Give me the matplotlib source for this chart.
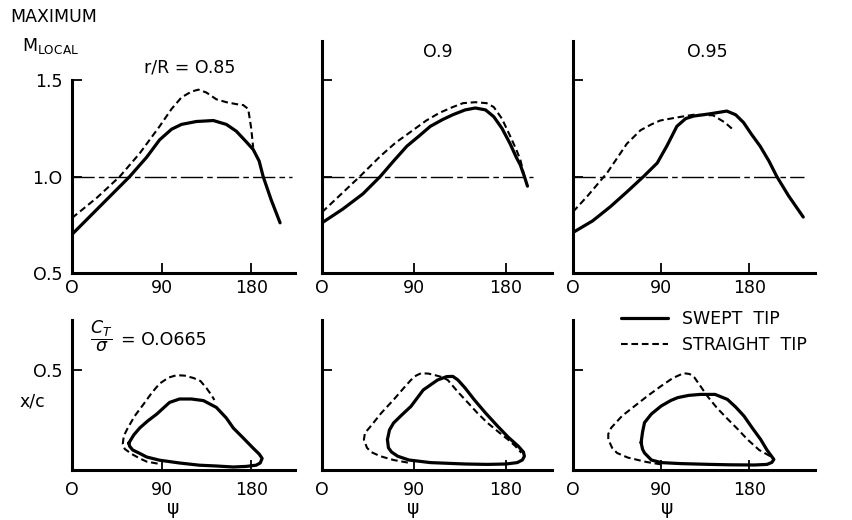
import matplotlib
matplotlib.use("Agg")
import matplotlib.pyplot as plt
from matplotlib.lines import Line2D

W, H = 853, 520
FS = 12.5

# ---- top row: maximum local Mach number vs azimuth psi ----
swept85_psi = [0, 28, 58, 75, 88, 100, 110, 125, 142, 155, 165, 175, 182, 188, 192, 200, 209]
swept85_m = [0.70, 0.845, 1.0, 1.10, 1.19, 1.245, 1.27, 1.285, 1.29, 1.27, 1.235, 1.18, 1.14, 1.08, 1.0, 0.88, 0.76]
straight85_psi = [0, 25, 48, 68, 88, 100, 110, 120, 127, 135, 145, 155, 165, 172, 177, 180, 182]
straight85_m = [0.785, 0.89, 1.0, 1.12, 1.26, 1.35, 1.41, 1.44, 1.45, 1.435, 1.40, 1.385, 1.375, 1.37, 1.35, 1.25, 1.15]

swept90_psi = [0, 20, 40, 57, 70, 83, 95, 106, 118, 128, 140, 150, 160, 168, 176, 184, 190, 194, 198, 201]
swept90_m = [0.76, 0.83, 0.91, 1.0, 1.08, 1.157, 1.21, 1.26, 1.295, 1.32, 1.345, 1.355, 1.345, 1.31, 1.25, 1.17, 1.10, 1.06, 1.0, 0.95]
straight90_psi = [0, 18, 37, 57, 72, 89, 102, 115, 128, 138, 150, 161, 168, 176, 184, 190, 194, 198]
straight90_m = [0.815, 0.905, 1.0, 1.105, 1.175, 1.24, 1.29, 1.33, 1.36, 1.38, 1.385, 1.38, 1.36, 1.30, 1.21, 1.14, 1.087, 1.0]

swept95_psi = [0, 20, 38, 55, 72, 86, 96, 106, 115, 123, 140, 157, 166, 174, 182, 191, 200, 208, 220, 235]
swept95_m = [0.71, 0.77, 0.843, 0.92, 1.0, 1.07, 1.16, 1.26, 1.30, 1.313, 1.325, 1.339, 1.32, 1.28, 1.22, 1.157, 1.08, 1.0, 0.90, 0.79]
straight95_psi = [0, 15, 35, 55, 69, 80, 89, 105, 123, 143, 155, 164]
straight95_m = [0.817, 0.90, 1.02, 1.17, 1.24, 1.27, 1.29, 1.305, 1.32, 1.317, 1.28, 1.24]

# ---- bottom row: shock position x/c vs psi ----
loop85_psi = [57, 62, 68, 76, 85, 98, 108, 120, 132, 145, 155, 162, 172, 182, 188, 191, 189, 185, 175, 162, 145, 128, 108, 88, 75, 68, 61, 58, 57]
loop85_xc = [0.134, 0.175, 0.21, 0.245, 0.279, 0.338, 0.355, 0.355, 0.347, 0.313, 0.26, 0.21, 0.16, 0.109, 0.08, 0.058, 0.035, 0.024, 0.018, 0.015, 0.02, 0.024, 0.035, 0.049, 0.065, 0.083, 0.10, 0.118, 0.134]
dash85_psi = [86, 75, 68, 60, 53, 51, 52, 56, 63, 72, 80, 88, 97, 105, 113, 122, 129, 135, 140, 143]
dash85_xc = [0.032, 0.042, 0.058, 0.08, 0.105, 0.13, 0.17, 0.21, 0.27, 0.33, 0.385, 0.432, 0.462, 0.474, 0.472, 0.46, 0.445, 0.41, 0.375, 0.35]

loop90_psi = [64, 66, 70, 78, 87, 99, 113, 122, 128, 133, 140, 149, 160, 172, 182, 192, 197, 198, 196, 191, 180, 162, 140, 106, 85, 74, 68, 65, 64]
loop90_xc = [0.152, 0.20, 0.235, 0.275, 0.318, 0.40, 0.45, 0.467, 0.468, 0.45, 0.41, 0.351, 0.285, 0.218, 0.165, 0.119, 0.09, 0.069, 0.05, 0.037, 0.03, 0.028, 0.03, 0.037, 0.05, 0.069, 0.09, 0.111, 0.152]
dash90_psi = [84, 70, 57, 48, 44, 41, 42, 47.5, 58, 70, 80, 87, 92, 97, 104, 110, 117, 123, 133, 143, 152, 162, 172, 182, 189, 195]
dash90_xc = [0.037, 0.05, 0.069, 0.09, 0.111, 0.152, 0.185, 0.218, 0.285, 0.351, 0.41, 0.45, 0.472, 0.484, 0.482, 0.475, 0.465, 0.45, 0.39, 0.335, 0.285, 0.235, 0.193, 0.152, 0.12, 0.086]

loop95_psi = [69.5, 71, 73, 80, 90, 100, 107, 118, 130, 145, 157.6, 166, 174.5, 183, 191.5, 198, 205, 203, 198, 185, 160, 140, 110, 90, 80, 76, 73, 71, 69.5]
loop95_xc = [0.137, 0.19, 0.237, 0.28, 0.32, 0.348, 0.362, 0.373, 0.378, 0.378, 0.353, 0.315, 0.27, 0.21, 0.153, 0.10, 0.053, 0.038, 0.028, 0.025, 0.026, 0.028, 0.032, 0.037, 0.05, 0.07, 0.085, 0.104, 0.137]
dash95_psi = [90, 75, 56, 45, 40, 36, 36, 39, 50, 63, 76, 90, 102, 113, 119, 124, 130, 137, 147, 158, 168, 178, 190, 201, 205]
dash95_xc = [0.028, 0.04, 0.062, 0.085, 0.11, 0.153, 0.18, 0.211, 0.27, 0.32, 0.37, 0.42, 0.46, 0.484, 0.48, 0.462, 0.42, 0.37, 0.31, 0.254, 0.205, 0.153, 0.1, 0.07, 0.055]

radius_labels = ['r/R = O.85', 'O.9', 'O.95']
psi_ticks = [0, 90, 180]
psi_ticklabels = ['O', '90', '180']
m_ticks = [0.5, 1.0, 1.5]
m_ticklabels = ['O.5', '1.O', '1.5']

top_curves = [(swept85_psi, swept85_m, straight85_psi, straight85_m),
              (swept90_psi, swept90_m, straight90_psi, straight90_m),
              (swept95_psi, swept95_m, straight95_psi, straight95_m)]
bottom_curves = [(loop85_psi, loop85_xc, dash85_psi, dash85_xc),
                 (loop90_psi, loop90_xc, dash90_psi, dash90_xc),
                 (loop95_psi, loop95_xc, dash95_psi, dash95_xc)]

# column geometry in pixels: left edge, width, psi at right end, end of sonic line, psi label x
columns = [(72, 223, 224, 221, 0.453), (322, 230, 225, 206, 0.396), (573, 242, 247, 236, 0.39)]

plt.rcParams['font.family'] = ['DejaVu Sans']
plt.rcParams['mathtext.fontset'] = 'dejavusans'

fig = plt.figure(figsize=(W / 100, H / 100), dpi=100)
fig.patch.set_facecolor('white')


def px_axes(left, top, width, height):
    return fig.add_axes([left / W, 1 - (top + height) / H, width / W, height / H])


SOLID = dict(color='black', lw=2.3, solid_capstyle='round', solid_joinstyle='round')
DASH = dict(color='black', lw=1.5, dashes=(3.2, 1.8))


def style_axes(ax, ylim, ybound, xpad):
    for s in ['top', 'right']:
        ax.spines[s].set_visible(False)
    for s in ['left', 'bottom']:
        ax.spines[s].set_linewidth(2.2)
    ax.spines['left'].set_bounds(*ybound)
    ax.set_ylim(*ylim)
    ax.set_xticks(psi_ticks)
    ax.set_xticklabels(psi_ticklabels)
    ax.tick_params(direction='in', length=7, width=1.3, labelsize=FS)
    ax.tick_params(axis='x', pad=xpad)
    ax.tick_params(axis='y', pad=7)
    ax.patch.set_visible(False)


for i, (left, width, xmax, sonic_end, psi_x) in enumerate(columns):
    # top: local Mach number
    ax = px_axes(left, 41.4, width, 231.6)
    sw_x, sw_y, st_x, st_y = top_curves[i]
    ax.plot([0, sonic_end], [1.0, 1.0], color='black', lw=1.0, dashes=(16, 3, 4, 3))
    ax.plot(st_x, st_y, **DASH)
    ax.plot(sw_x, sw_y, **SOLID)
    ax.set_xlim(0, xmax)
    style_axes(ax, (0.5, 1.7), (0.5, 1.5) if i == 0 else (0.5, 1.7), 4)
    ax.set_yticks(m_ticks)
    ax.set_yticklabels(m_ticklabels if i == 0 else [])

    # bottom: shock position
    bx = px_axes(left, 320, width, 150)
    lx, ly, dx, dy = bottom_curves[i]
    bx.plot(dx, dy, **DASH)
    bx.plot(lx, ly, **SOLID)
    bx.set_xlim(0, xmax)
    style_axes(bx, (0, 0.75), (0, 0.75), 8)
    bx.set_yticks([0.5])
    bx.set_yticklabels(['O.5'] if i == 0 else [])
    bx.set_xlabel('\u03c8', fontsize=FS + 1)
    bx.xaxis.set_label_coords(psi_x, -0.195)

# text labels
fig.text(10 / W, 1 - 17 / H, 'MAXIMUM', fontsize=FS, va='center', ha='left')
fig.text(22 / W, 1 - 46 / H, r'M$_{\mathregular{LOCAL}}$', fontsize=FS, va='center', ha='left')
fig.text(190 / W, 1 - 67 / H, radius_labels[0], fontsize=FS, va='center', ha='center')
fig.text(438 / W, 1 - 52 / H, radius_labels[1], fontsize=FS, va='center', ha='center')
fig.text(707 / W, 1 - 52 / H, radius_labels[2], fontsize=FS, va='center', ha='center')
fig.text(32 / W, 1 - 401 / H, 'x/c', fontsize=FS, va='center', ha='center')
fig.text(90 / W, 1 - 336 / H, r'$\dfrac{C_T}{\sigma}$', fontsize=FS, va='center', ha='left')
fig.text(121 / W, 1 - 340 / H, '= O.O665', fontsize=FS, va='center', ha='left')

handles = [Line2D([], [], **SOLID), Line2D([], [], **DASH)]
fig.legend(handles, ['SWEPT  TIP', 'STRAIGHT  TIP'], loc='upper left',
           bbox_to_anchor=(621 / W, 1 - 310 / H), frameon=False, fontsize=FS,
           handlelength=2.7, handletextpad=0.8, labelspacing=0.45,
           borderpad=0, borderaxespad=0)

fig.savefig('out.png', dpi=100, facecolor='white')
